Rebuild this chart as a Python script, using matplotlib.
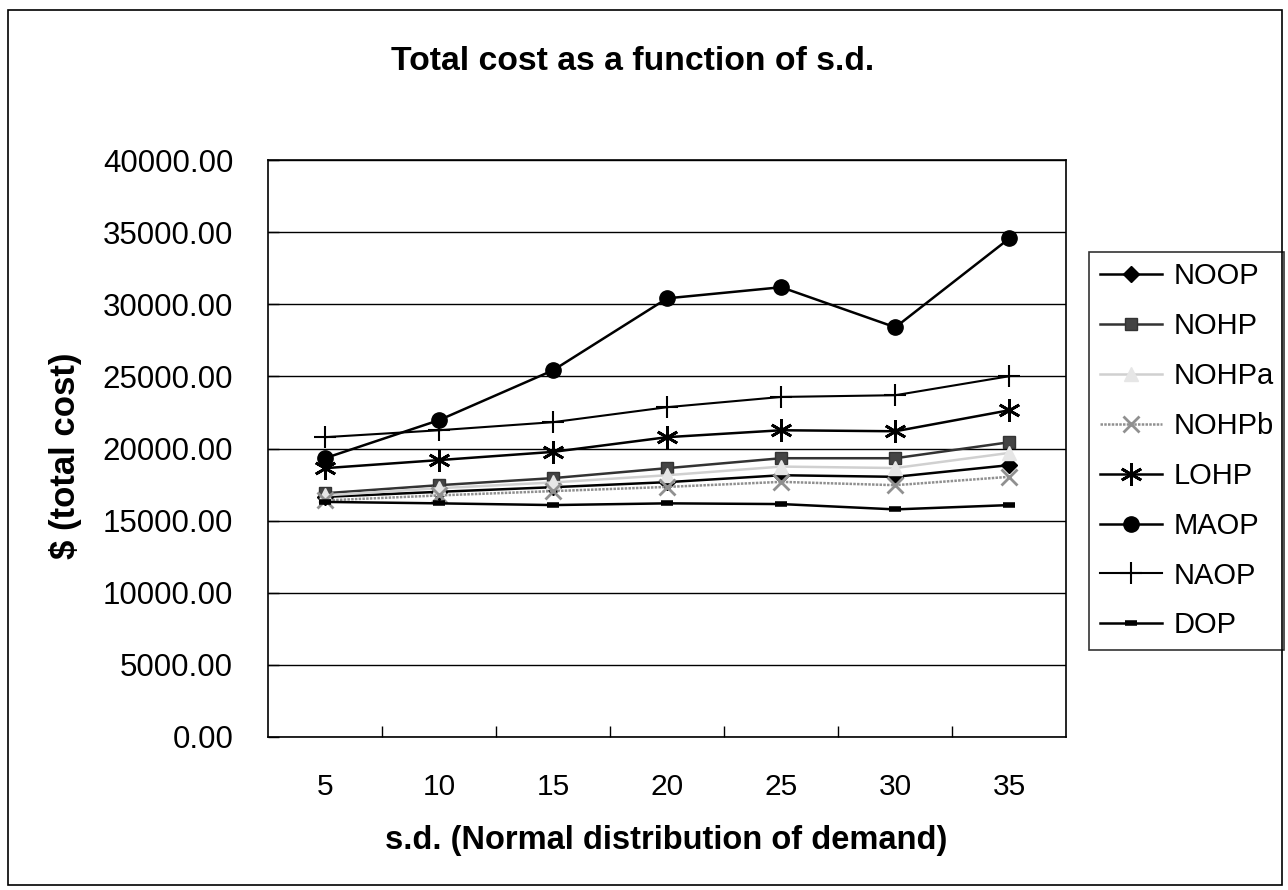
import matplotlib
matplotlib.use('Agg')
import matplotlib.pyplot as plt
from matplotlib.patches import Rectangle

plt.rcParams['font.family'] = ['Liberation Sans', 'DejaVu Sans']

# s.d. categories
sd_labels = ['5', '10', '15', '20', '25', '30', '35']

# total cost per policy
noop = [16650, 17000, 17320, 17670, 18150, 18040, 18850]
nohp = [16900, 17460, 17950, 18640, 19330, 19330, 20440]
nohpa = [16750, 17250, 17650, 18150, 18750, 18650, 19700]
nohpb = [16400, 16750, 17050, 17340, 17690, 17460, 18040]
lohp = [18640, 19200, 19770, 20790, 21270, 21200, 22660]
maop = [19330, 21970, 25430, 30420, 31190, 28410, 34580]
naop = [20790, 21270, 21830, 22870, 23580, 23700, 25020]
dop = [16300, 16200, 16080, 16200, 16150, 15780, 16080]

fig = plt.figure(figsize=(12.88, 8.9), dpi=100)
ax = fig.add_axes([0.208, 0.172, 0.620, 0.648])

x = list(range(len(sd_labels)))

ax.plot(x, noop, color='black', lw=1.8, marker='D', ms=8, label='NOOP')
ax.plot(x, nohp, color='#333333', lw=1.8, marker='s', ms=9, mfc='#444444', label='NOHP')
ax.plot(x, nohpa, color='#d0d0d0', lw=1.8, marker='^', ms=10, mfc='#e6e6e6', mec='#e6e6e6', label='NOHPa')
ax.plot(x, nohpb, color='#909090', lw=1.8, marker='x', ms=12, mew=2, label='NOHPb', ls=(0, (1, 0.5)))
ax.plot(x, lohp, color='black', lw=1.8, marker=(6, 2, 0), ms=16, mew=2, label='LOHP')
ax.plot(x, maop, color='black', lw=1.8, marker='o', ms=11, label='MAOP')
ax.plot(x, naop, color='black', lw=1.5, marker='+', ms=16, mew=1.5, label='NAOP')
ax.plot(x, dop, color='black', lw=1.8, marker='_', ms=8, mew=4, label='DOP')

ax.set_xlim(-0.5, len(sd_labels) - 0.5)
ax.set_ylim(0, 40000)
ax.set_yticks(range(0, 40001, 5000))
ax.set_yticklabels([f'{v:.2f}' for v in range(0, 40001, 5000)])
ax.set_xticks(x)
ax.set_xticklabels(sd_labels)
# category separators
ax.set_xticks([i + 0.5 for i in x[:-1]], minor=True)
ax.tick_params(axis='x', which='major', length=0, pad=26, labelsize=21.5)
ax.tick_params(axis='x', which='minor', direction='in', length=8, width=1)
ax.tick_params(axis='y', direction='in', length=8, width=1, pad=25, labelsize=22.5)

ax.yaxis.grid(True, color='black', lw=1)
ax.set_axisbelow(True)
for s in ax.spines.values():
    s.set_linewidth(1.2)

fig.text(633 / 1288, 1 - 62 / 890, 'Total cost as a function of s.d.', fontsize=24.3,
         fontweight='bold', ha='center', va='center')
fig.text(666 / 1288, 1 - 840 / 890, 's.d. (Normal distribution of demand)', fontsize=23.5,
         fontweight='bold', ha='center', va='center')
fig.text(66 / 1288, 1 - 456 / 890, '$ (total cost)', fontsize=25, fontweight='bold',
         ha='center', va='center', rotation=90)

leg = ax.legend(loc='upper left', bbox_to_anchor=(1.0288, 0.8406), frameon=True, fancybox=False,
                edgecolor='black', fontsize=21, handlelength=2.12, handletextpad=0.4,
                labelspacing=0.75, borderpad=0.35, borderaxespad=0)
leg.get_frame().set_linewidth(1.2)

# outer chart border
fig.patches.append(Rectangle((8 / 1288, 5 / 890), 1274 / 1288, 875 / 890, transform=fig.transFigure,
                             fill=False, edgecolor='black', lw=1.2))

fig.savefig('out.png', dpi=100)
